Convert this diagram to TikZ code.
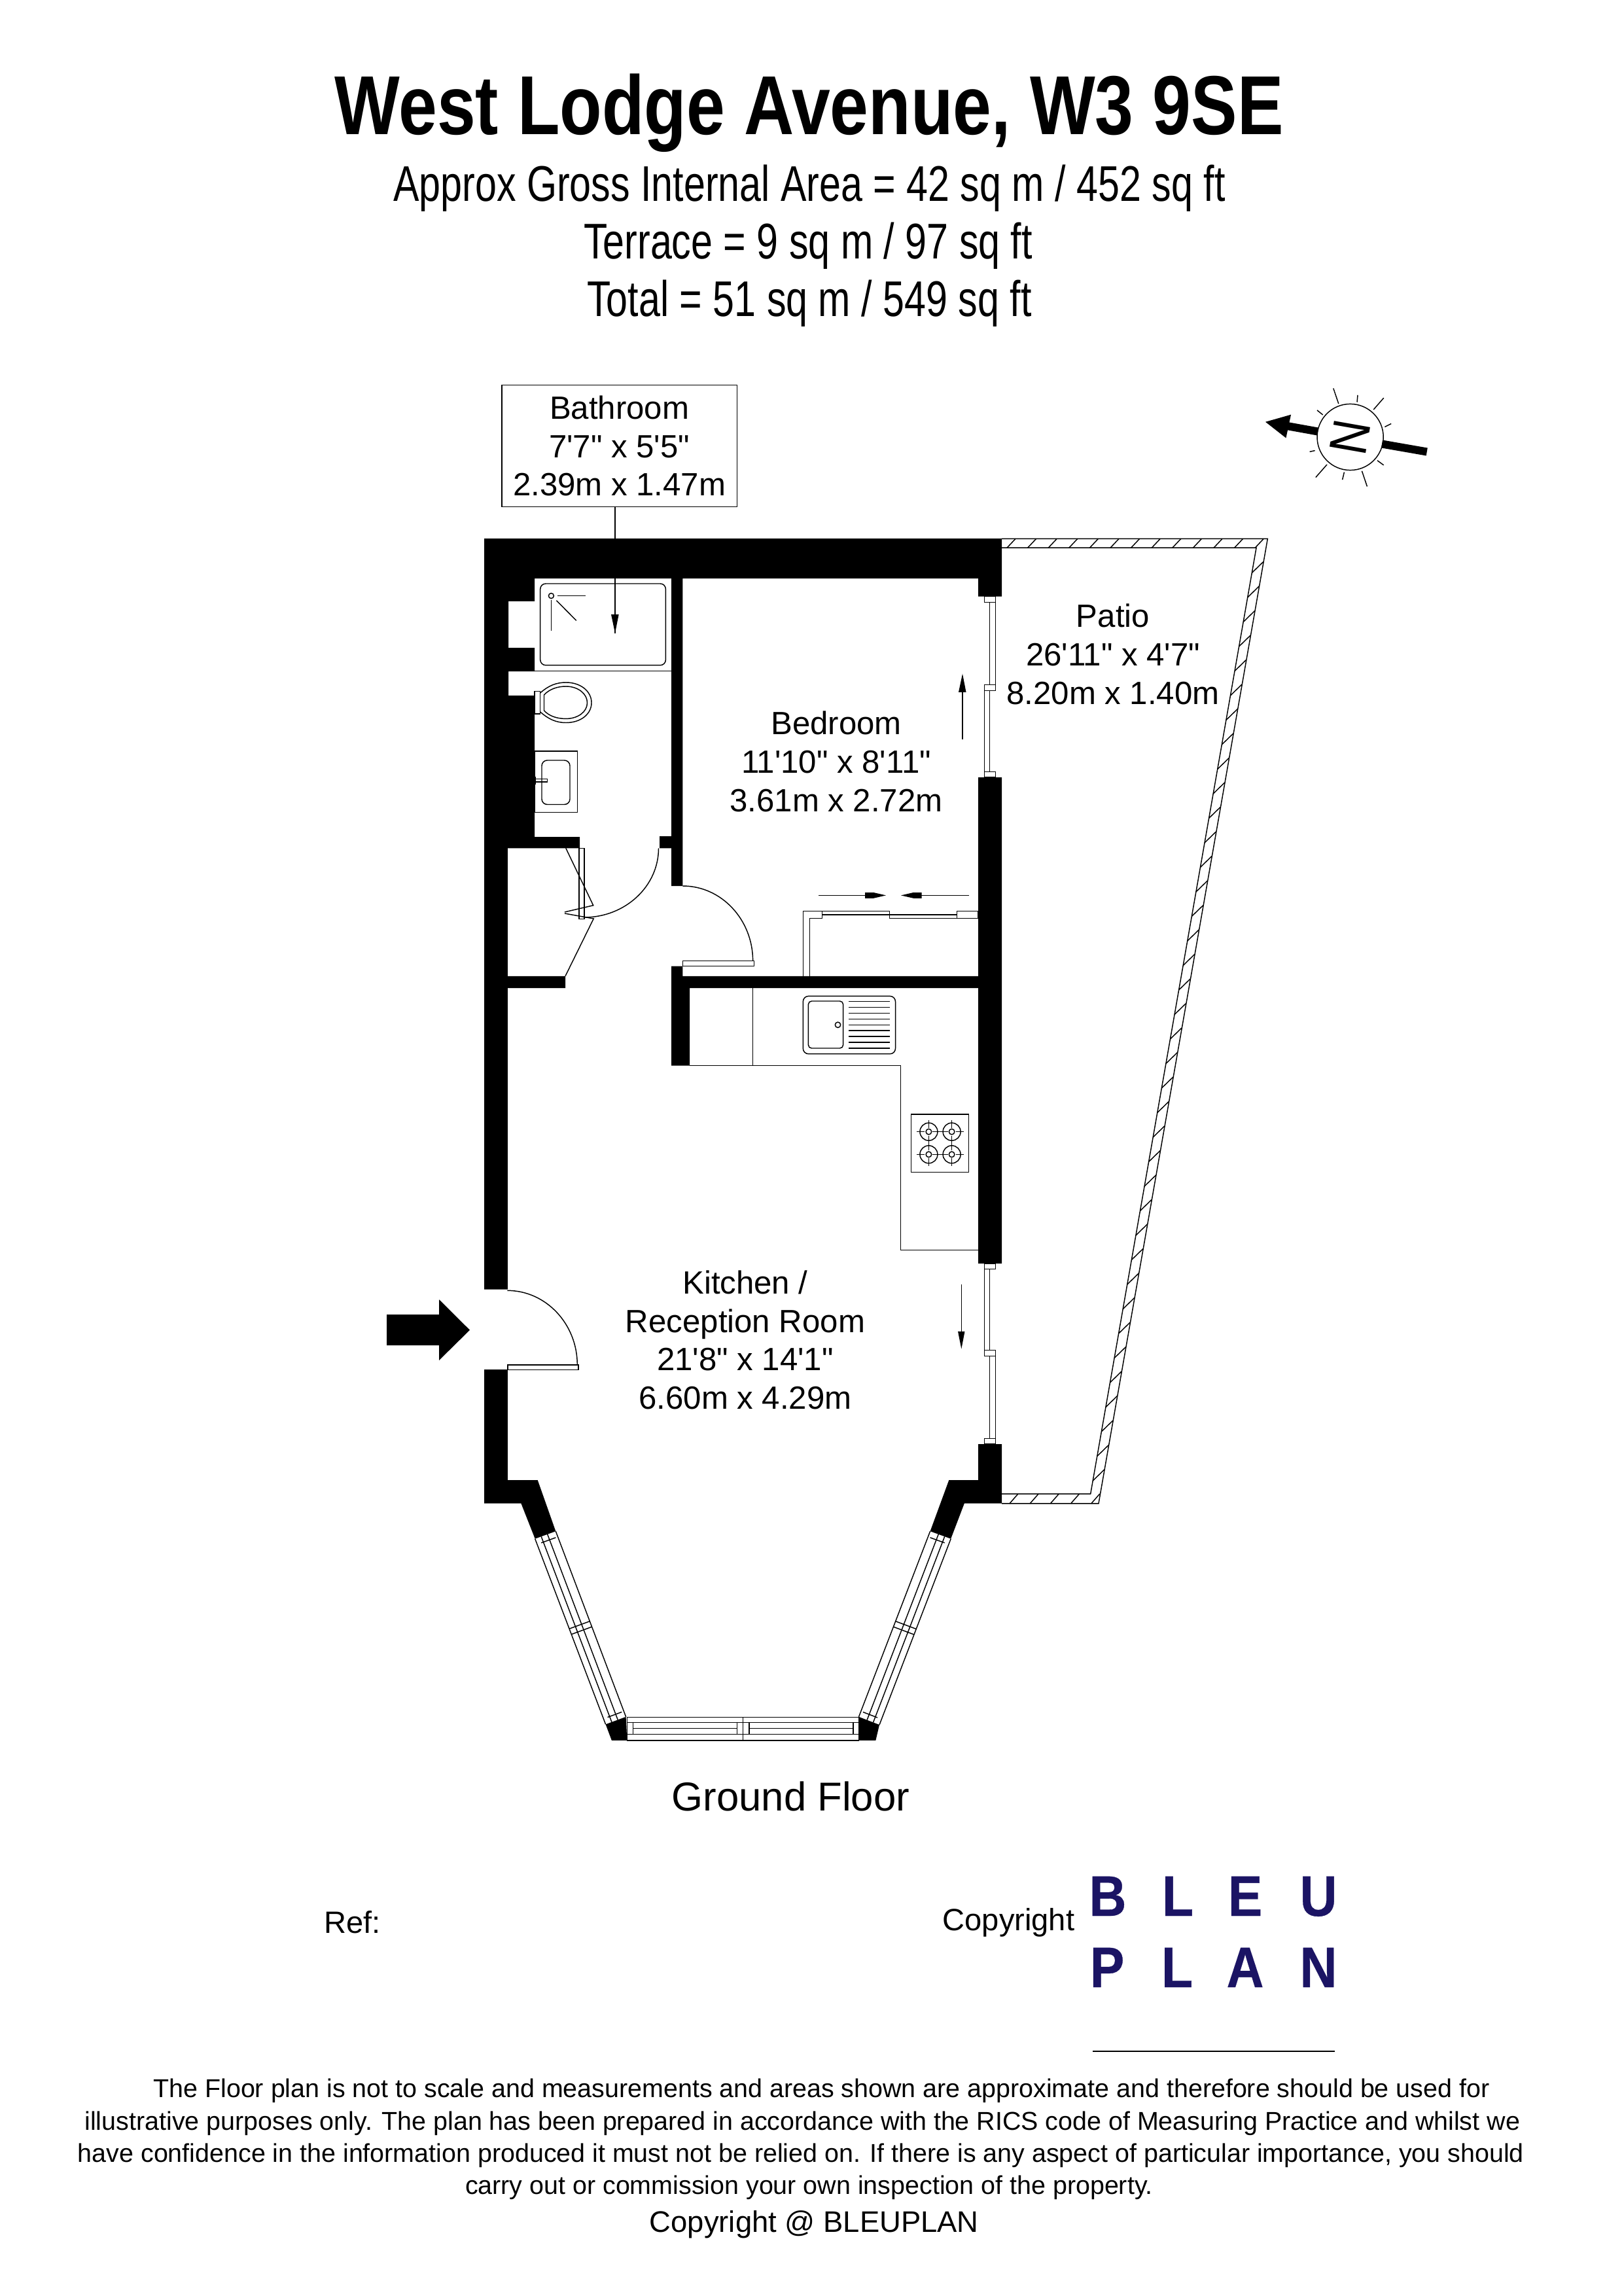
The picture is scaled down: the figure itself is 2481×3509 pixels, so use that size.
\documentclass[tikz,border=0pt]{standalone}
\usepackage{fontspec}
\setmainfont{Liberation Sans}[Ligatures=TeXOff]
\newfontfamily\narrowfont{Liberation Sans}[Ligatures=TeXOff,FakeStretch=0.772]
\newfontfamily\titlefont{Liberation Sans Bold}[Ligatures=TeXOff,FakeStretch=0.826]
\newfontfamily\logofont{Liberation Sans Bold}[Ligatures=TeXOff,FakeStretch=0.9,FakeBold=0.4]
\newfontfamily\compassfont{Liberation Sans}[Ligatures=TeXOff,FakeStretch=0.88]
\usetikzlibrary{calc}
\definecolor{logonavy}{HTML}{1B1464}
\tikzset{
  wall/.style={fill=black,draw=none},
  fine/.style={draw=black,line width=0.35pt},
  head/.style={fill=black,draw=none},
  roomlabel/.style={align=center,inner sep=0pt,font=\fontsize{11.8}{14.1}\selectfont},
  disclaimer/.style={inner sep=0pt,font=\fontsize{9.46}{12}\selectfont},
  subtitle/.style={inner sep=0pt,anchor=base,font=\narrowfont\fontsize{18.4}{22}\selectfont},
  logoletter/.style={inner sep=0pt,anchor=base,text=logonavy,font=\logofont\fontsize{21}{25}\selectfont},
  smalllabel/.style={inner sep=0pt,font=\fontsize{11.3}{14}\selectfont}
}
\begin{document}
\begin{tikzpicture}[x=0.24pt,y=-0.24pt]
\useasboundingbox (0,0) rectangle (2481,3509);
\fill[white] (0,0) rectangle (2481,3509);

% ---- texts at the top
\node[inner sep=0pt,anchor=base,font=\titlefont\fontsize{30.7}{36}\selectfont] (title) at (1236.5,206) {West Lodge Avenue, W3 9SE};
\node[subtitle] (sub1) at (1237,308) {Approx Gross Internal Area = 42 sq m / 452 sq ft};
\node[subtitle] (sub2) at (1235,396) {Terrace = 9 sq m / 97 sq ft};
\node[subtitle] (sub3) at (1237,484) {Total = 51 sq m / 549 sq ft};

% ---- bathroom label box with its arrow
\node[draw=black,line width=0.35pt,minimum width=358bp*0.24,minimum height=185.7bp*0.24,inner sep=0pt,align=center,font=\fontsize{11.8}{14.1}\selectfont] (bathbox) at (946.7,681.5) {Bathroom\\7'7" x 5'5"\\2.39m x 1.47m};
\coordinate (bathtip) at (940,967.8);
\draw[fine] (bathbox.south -| bathtip) -- (bathtip);
\fill[head] (934,939) -- (945.7,939) -- (bathtip) -- cycle;

% ---- patio
\draw[fine] (1531,823.4) -- (1937.3,823.4) -- (1679,2297.8) -- (1531,2297.8);
\draw[fine] (1531,837.2) -- (1920,837.2) -- (1666.7,2283) -- (1531,2283);
\foreach \hx in {0,...,12} {
  \draw[fine] ({1539+31.6*\hx},837.2) -- ({1552+31.6*\hx},823.4);
}
\foreach \hx in {0,...,4} {
  \draw[fine] ({1543+31.2*\hx},2297.8) -- ({1556+31.2*\hx},2283);
}
\foreach \hi in {0,...,37} {
  \pgfmathsetmacro{\hy}{2263-37.5*\hi}
  \pgfmathsetmacro{\hxx}{1666.7+(2283-\hy)*0.1752}
  \draw[fine] (\hxx,\hy) -- ({\hxx+17.5},{\hy-17});
}

% ---- walls
\fill[wall] (740,823) -- (1531,823) -- (1531,911.6) -- (1495,911.6) -- (1495,884) -- (1043.3,884) -- (1043.3,1354) -- (1026,1354) -- (1026,1296.3) -- (1008,1296.3) -- (1008,1278) -- (1026,1278) -- (1026,884) -- (817,884) -- (817,918.8) -- (777,918.8) -- (777,990) -- (817,990) -- (817,1026) -- (777,1026) -- (777,1063) -- (817,1063) -- (817,1279) -- (886,1279) -- (886,1296.3) -- (775.8,1296.3) -- (775.8,1491.8) -- (864,1491.8) -- (864,1510.2) -- (775.8,1510.2) -- (775.8,1970.7) -- (740,1970.7) -- cycle;
\fill[wall] (1495,1188) -- (1531,1188) -- (1531,1931) -- (1495,1931) -- (1495,1510.2) -- (1054,1510.2) -- (1054,1628.6) -- (1026,1628.6) -- (1026,1476.5) -- (1043.3,1476.5) -- (1043.3,1491.8) -- (1495,1491.8) -- cycle;

\coordinate (LA) at (817.7,2351.7);
\coordinate (LB) at (849.3,2340.2);
\coordinate (LC) at (925.6,2635.3);
\coordinate (LD) at (956.6,2623.8);
\coordinate (RA) at (1453.2,2351.7);
\coordinate (RB) at (1421.6,2340.2);
\coordinate (RC) at (1344,2636);
\coordinate (RD) at (1312.5,2623.8);

\fill[wall] (740,2093) -- (775.8,2093) -- (775.8,2262) -- (821.7,2262) -- (LB) -- (LA) -- (796.4,2297.7) -- (740,2297.7) -- cycle;
\fill[wall] (1495,2207) -- (1531,2207) -- (1531,2297.7) -- (1473.8,2297.7) -- (RA) -- (RB) -- (1450.3,2262) -- (1495,2262) -- cycle;
\fill[wall] (LC) -- (LD) -- (958.3,2659.8) -- (934.8,2659.8) -- cycle;
\fill[wall] (RD) -- (RC) -- (1338.4,2659.8) -- (1312.5,2659.8) -- cycle;

% ---- bay windows
\foreach \f in {0,0.3,0.6,1} {
  \draw[fine] ($(LA)!\f!(LB)$) -- ($(LC)!\f!(LD)$);
  \draw[fine] ($(RA)!\f!(RB)$) -- ($(RC)!\f!(RD)$);
}
\foreach \t in {0.485,0.515} {
  \draw[fine] ($(LA)!\t!(LC)$) -- ($(LB)!\t!(LD)$);
  \draw[fine] ($(RA)!\t!(RC)$) -- ($(RB)!\t!(RD)$);
}
\foreach \t in {0.03,0.97} {
  \draw[fine] ($($(LA)!0.2!(LB)$)!\t!($(LC)!0.2!(LD)$)$) -- ($($(LA)!0.9!(LB)$)!\t!($(LC)!0.9!(LD)$)$);
  \draw[fine] ($($(RA)!0.2!(RB)$)!\t!($(RC)!0.2!(RD)$)$) -- ($($(RA)!0.9!(RB)$)!\t!($(RC)!0.9!(RD)$)$);
}
\draw[fine] (958.3,2624.6) rectangle (1312.5,2659.8);
\draw[fine] (958.3,2632.2) -- (1312.5,2632.2);
\draw[fine] (958.3,2650.2) -- (1312.5,2650.2);
\draw[fine] (1135.7,2624.6) -- (1135.7,2659.8);
\draw[fine] (967.5,2632.2) -- (967.5,2650.2);
\draw[fine] (1126.5,2632.2) -- (1126.5,2650.2);
\draw[fine] (1144.9,2632.2) -- (1144.9,2650.2);
\draw[fine] (1303.9,2632.2) -- (1303.9,2650.2);
\draw[fine] (967.5,2641.4) -- (1126.5,2641.4);
\draw[fine] (1144.9,2641.4) -- (1303.9,2641.4);

% ---- right wall sliding windows
\draw[fine] (1504.5,911.6) rectangle (1521.7,920.3);
\draw[fine] (1512.5,920.3) rectangle (1521.7,1046.6);
\draw[fine] (1504.5,1046.6) rectangle (1521.7,1055.5);
\draw[fine] (1504.5,1055.5) rectangle (1512.5,1179.6);
\draw[fine] (1504.5,1179.6) rectangle (1521.7,1188);
\draw[fine] (1504.5,1931) rectangle (1521.7,1939.5);
\draw[fine] (1504.5,1939.5) rectangle (1512.3,2063.5);
\draw[fine] (1504.5,2063.5) rectangle (1521.7,2072.4);
\draw[fine] (1512.3,2072.4) rectangle (1521.7,2198.3);
\draw[fine] (1504.5,2198.3) rectangle (1521.7,2207);
% sliding arrows
\draw[fine] (1471,1129.6) -- (1471,1050);
\fill[head] (1465,1057.8) -- (1476.5,1057.8) -- (1471,1029.6) -- cycle;
\draw[fine] (1469.3,1963) -- (1469.3,2040);
\fill[head] (1464,2034.8) -- (1474.5,2034.8) -- (1469.3,2061.6) -- cycle;

% ---- shower room fittings
\draw[fine] (817,1025.4) -- (1026,1025.4);
\draw[fine,rounded corners=2pt] (825.7,892) rectangle (1017.4,1016.7);
\draw[fine] (842.4,910.6) circle[radius=4];
\draw[fine] (851.5,910.6) -- (895,910.6);
\draw[fine] (842.4,916.7) -- (842.4,963.7);
\draw[fine] (850.4,917.8) -- (880.8,948.4);
\draw[fine] (817,1056.5) rectangle (825.7,1091);
\draw[fine] (825.7,1059) .. controls (838,1048) and (850,1043) .. (865,1043) .. controls (888,1043) and (904,1057) .. (904,1074) .. controls (904,1091) and (888,1104.5) .. (865,1104.5) .. controls (850,1104.5) and (838,1099) .. (825.7,1088);
\draw[fine] (831.5,1062) .. controls (840,1053) and (852,1049) .. (865,1049) .. controls (883,1049) and (897.5,1060) .. (897.5,1074) .. controls (897.5,1088) and (883,1098.4) .. (865,1098.4) .. controls (852,1098.4) and (840,1095) .. (831.5,1086) -- cycle;
\draw[fine] (817,1148) rectangle (882.5,1241.7);
\draw[fine,rounded corners=2pt] (828,1162) rectangle (871,1229.5);
\draw[fine] (817,1190.5) rectangle (836.6,1195);
\draw[fine] (818.5,1187) -- (818.5,1199);

% ---- cupboard doors
\draw[fine] (864.8,1296.3) -- (906.7,1383.7) -- (863,1393.9);
\draw[fine] (864,1491.8) -- (907.2,1404) -- (863,1396);
\draw[fine] (884.8,1296.3) rectangle (892.9,1404.6);
\draw[fine] (1006.5,1296.3) .. controls (1006.5,1355) and (955,1402) .. (892.9,1402);

% ---- bedroom door
\draw[fine] (1043.3,1354) .. controls (1103,1354) and (1150.6,1406) .. (1150.6,1468.4);
\draw[fine] (1043.3,1468.4) rectangle (1152.3,1476.5);

% ---- entrance door and arrow
\draw[fine] (775.3,1972.3) .. controls (834,1972.3) and (882.3,2023) .. (882.3,2086);
\draw[fine] (775.8,2086) rectangle (884,2093.3);
\fill[wall] (591,2009) -- (671,2009) -- (671,1986) -- (718,2032.7) -- (671,2079) -- (671,2056) -- (591,2056) -- cycle;

% ---- wardrobe
\draw[fine] (1227.3,1491.8) -- (1227.3,1392.3) -- (1256.4,1392.3);
\draw[fine] (1237.3,1491.8) -- (1237.3,1403.6) -- (1256.4,1403.6) -- (1256.4,1392.3);
\draw[fine] (1256.4,1392.3) rectangle (1359.7,1398);
\draw[fine] (1359.7,1398) rectangle (1462.3,1403.6);
\draw[fine] (1462.3,1392.3) rectangle (1495,1403.6);
\draw[fine] (1251,1368.4) -- (1325,1368.4);
\fill[head] (1322,1364) -- (1335,1364) -- (1354,1368.4) -- (1335,1372.8) -- (1322,1372.8) -- cycle;
\draw[fine] (1481,1368.4) -- (1405,1368.4);
\fill[head] (1408.7,1364) -- (1396,1364) -- (1377,1368.4) -- (1396,1372.8) -- (1408.7,1372.8) -- cycle;

% ---- kitchen
\draw[fine] (1150.4,1510.2) -- (1150.4,1628.6);
\draw[fine] (1054,1628.6) -- (1376.6,1628.6) -- (1376.6,1910.7) -- (1495,1910.7);
\draw[fine,rounded corners=2pt] (1227.3,1522.4) rectangle (1368.5,1610.7);
\draw[fine,rounded corners=1.2pt] (1235.4,1530) rectangle (1288.6,1602);
\draw[fine] (1280.5,1566.3) circle[radius=4.2];
\foreach \dn in {0,...,8} {
  \draw[fine] (1297,{1530.6+8.92*\dn}) -- (1360,{1530.6+8.92*\dn});
}
\draw[fine] (1392.3,1703) rectangle (1480.7,1791.3);
\foreach \bx in {1419.4,1454.6} {
  \foreach \by in {1729.6,1764.3} {
    \draw[fine] (\bx,\by) circle[radius=13.5];
    \draw[fine] (\bx,\by) circle[radius=4.3];
    \draw[fine] ({\bx-18},\by) -- ({\bx-6},\by);
    \draw[fine] ({\bx+6},\by) -- ({\bx+18},\by);
    \draw[fine] (\bx,{\by-18}) -- (\bx,{\by-6});
    \draw[fine] (\bx,{\by+6}) -- (\bx,{\by+18});
  }
}

% ---- room labels
\node[roomlabel] (bedroom) at (1278,1164) {Bedroom\\11'10" x 8'11"\\3.61m x 2.72m};
\node[roomlabel] (patio) at (1701,1000) {Patio\\26'11" x 4'7"\\8.20m x 1.40m};
\node[roomlabel] (kitchen) at (1139,2048) {Kitchen /\\Reception Room\\21'8" x 14'1"\\6.60m x 4.29m};
\node[inner sep=0pt,font=\fontsize{14.8}{18}\selectfont] (ground) at (1208.5,2745) {Ground Floor};

% ---- compass
\draw[fine] (2063.6,668) circle[radius=50.6];
\fill[head] (1934,644.8) -- (1973,633.7) -- (1965.4,669.4) -- cycle;
\draw[line width=2.9pt,line cap=butt] (1968,651.2) -- (2014,659.5);
\draw[line width=2.9pt,line cap=butt] (2112,678.5) -- (2180.7,690.5);
\node[inner sep=0pt,rotate=80,font=\compassfont\fontsize{19.5}{20}\selectfont] (northn) at (2063.6,668) {N};
\draw[fine] (2045.8,617.1) -- (2037.8,593.5);
\draw[fine] (2074,614.5) -- (2075,603.8);
\draw[fine] (2099.2,626) -- (2114.7,608.2);
\draw[fine] (2021.7,634) -- (2013,627);
\draw[fine] (2116.4,652.4) -- (2126.2,647.5);
\draw[fine] (2009.6,688.6) -- (2001.6,690.4);
\draw[fine] (2105,703.8) -- (2114.7,710.9);
\draw[fine] (2028,710) -- (2010.8,729.6);
\draw[fine] (2054.4,721.6) -- (2051.6,733.2);
\draw[fine] (2081.4,719.8) -- (2089.4,743.5);

% ---- footer
\node[smalllabel,anchor=west] (ref) at (494.6,2938) {Ref:};
\node[smalllabel,anchor=east] (copy) at (1643,2938) {Copyright};
\node[logoletter] (lb) at (1693,2928) {B};
\node[logoletter] (ll) at (1800,2928) {L};
\node[logoletter] (le) at (1903,2928) {E};
\node[logoletter] (lu) at (2015,2928) {U};
\node[logoletter] (lp) at (1692,3037) {P};
\node[logoletter] (ll2) at (1799,3037) {L};
\node[logoletter] (la) at (1903,3037) {A};
\node[logoletter] (ln) at (2015,3037) {N};
\draw[fine] (1670,3135) -- (2040,3135);

\node[disclaimer] (d1) at (1255.5,3195.5) {The Floor plan is not to scale and measurements and areas shown are approximate and therefore should be used for};
\node[disclaimer] (d2) at (1226.4,3245) {illustrative purposes only. The plan has been prepared in accordance with the RICS code of Measuring Practice and whilst we};
\node[disclaimer] (d3) at (1224,3294) {have confidence in the information produced it must not be relied on. If there is any aspect of particular importance, you should};
\node[disclaimer] (d4) at (1236.5,3343) {carry out or commission your own inspection of the property.};
\node[inner sep=0pt,font=\fontsize{10.9}{13}\selectfont] (d5) at (1244.3,3400) {Copyright @ BLEUPLAN};
\end{tikzpicture}
\end{document}
